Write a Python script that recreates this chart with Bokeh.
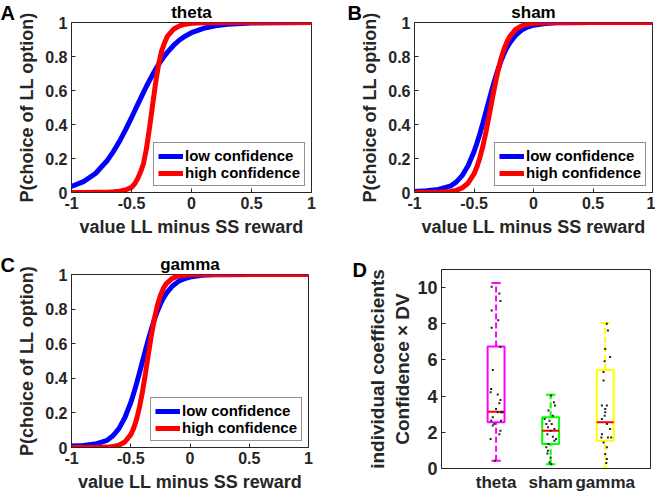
from bokeh.plotting import figure
from bokeh.models import (Legend, LegendItem, Label, FixedTicker, Range1d, ColumnDataSource)
from bokeh.layouts import column, row
from bokeh.embed import file_html
from bokeh.resources import INLINE

FONT = "Liberation Sans"
AXC = "#262626"

# ---------------- data ----------------
x_vals = [-1, -0.9, -0.8, -0.7, -0.65, -0.6, -0.55, -0.5, -0.475, -0.45, -0.425,
          -0.4, -0.375, -0.35, -0.325, -0.3, -0.275, -0.25, -0.225, -0.2, -0.15,
          -0.1, -0.05, 0, 0.1, 0.2, 0.3, 0.5, 1]

theta_low = [0.035, 0.064, 0.112, 0.19, 0.242, 0.301, 0.368, 0.440, 0.478, 0.515,
             0.552, 0.589, 0.625, 0.659, 0.692, 0.723, 0.752, 0.779, 0.804, 0.826,
             0.865, 0.897, 0.921, 0.940, 0.966, 0.981, 0.990, 0.997, 1.0]
theta_high = [0.0, 0.0, 0.001, 0.002, 0.004, 0.007, 0.015, 0.03, 0.05, 0.08,
              0.12, 0.17, 0.26, 0.38, 0.51, 0.64, 0.75, 0.83, 0.88, 0.92,
              0.96, 0.98, 0.99, 0.996, 0.999, 1.0, 1.0, 1.0, 1.0]
sham_low = [0.006, 0.01, 0.018, 0.037, 0.061, 0.099, 0.157, 0.240, 0.291, 0.347,
            0.409, 0.474, 0.539, 0.603, 0.664, 0.720, 0.770, 0.813, 0.850, 0.880,
            0.925, 0.955, 0.973, 0.984, 0.994, 0.998, 0.999, 1.0, 1.0]
sham_high = [0.0001, 0.0003, 0.0014, 0.006, 0.0127, 0.0266, 0.0547, 0.109, 0.151, 0.206,
             0.274, 0.354, 0.444, 0.537, 0.628, 0.711, 0.782, 0.839, 0.883, 0.917,
             0.959, 0.980, 0.9905, 0.9955, 0.999, 1.0, 1.0, 1.0, 1.0]
gamma_low = [0.008, 0.012, 0.02, 0.041, 0.068, 0.109, 0.172, 0.259, 0.313, 0.372,
             0.435, 0.5, 0.565, 0.628, 0.687, 0.741, 0.788, 0.828, 0.863, 0.891,
             0.932, 0.959, 0.975, 0.985, 0.995, 0.998, 0.999, 1.0, 1.0]
gamma_high = [0.0, 0.0001, 0.0004, 0.0022, 0.0054, 0.0131, 0.0317, 0.0745, 0.112, 0.165,
              0.237, 0.327, 0.433, 0.545, 0.652, 0.746, 0.822, 0.879, 0.919, 0.947,
              0.978, 0.991, 0.996, 0.998, 1.0, 1.0, 1.0, 1.0, 1.0]

x_ticks = [-1, -0.5, 0, 0.5, 1]
x_tick_labels = ["-1", "-0.5", "0", "0.5", "1"]
y_ticks = [0, 0.2, 0.4, 0.6, 0.8, 1]
y_tick_labels = ["0", "0.2", "0.4", "0.6", "0.8", "1"]

categories = ["theta", "sham", "gamma"]
cat_pos = [1, 2, 3]
box_colors = ["#FF00FF", "#00FF00", "#FFFF00"]
q1 = [2.55, 1.35, 1.54]
median = [3.14, 2.09, 2.55]
q3 = [6.75, 2.83, 5.45]
whisk_lo = [0.43, 0.24, 0.0]
whisk_hi = [10.26, 4.07, 8.04]

theta_pts = [10.04, 9.67, 9.26, 8.74, 8.19, 7.78, 6.71, 5.45, 4.40, 4.21, 4.09, 3.79, 3.60,
             3.29, 3.11, 3.11, 3.11, 2.83, 2.64, 2.64, 2.46, 2.37, 2.09, 1.90, 1.63, 0.43]
theta_jit = [-0.08, 0.06, 0.08, -0.08, 0.04, -0.08, 0.08, -0.06, -0.09, -0.10, 0.03, 0.08, 0.06,
             0.0, 0.03, 0.09, 0.12, -0.06, -0.09, 0.09, -0.03, -0.06, 0.08, 0.06, -0.10, -0.02]
sham_pts = [4.03, 3.66, 3.48, 3.20, 2.92, 2.74, 2.64, 2.46, 2.46, 2.28, 2.18, 2.09, 1.90,
            1.75, 1.63, 1.54, 1.35, 1.17, 0.98, 0.83, 0.61, 0.33, 0.24]
sham_jit = [0.01, 0.06, 0.08, -0.04, 0.04, -0.11, -0.02, -0.08, 0.02, -0.05, 0.07, 0.0, -0.06,
            0.04, 0.10, 0.07, -0.04, -0.08, -0.05, -0.06, 0.0, -0.02, 0.01]
gamma_pts = [8.0, 7.63, 6.6, 6.16, 5.93, 5.33, 4.86, 3.48, 3.48, 3.29, 3.11, 2.92, 2.74,
             2.46, 2.18, 1.90, 1.72, 1.72, 1.72, 1.44, 1.17, 0.80, 0.52, 0.3]
gamma_jit = [0.03, 0.05, 0.0, 0.09, -0.01, -0.03, -0.03, -0.06, 0.03, 0.0, 0.0, -0.01, -0.06,
             0.03, 0.09, -0.06, -0.07, 0.05, 0.11, -0.03, 0.03, 0.0, 0.03, 0.02]
d_y_ticks = [0, 2, 4, 6, 8, 10]
d_y_tick_labels = ["0", "2", "4", "6", "8", "10"]


# ---------------- helpers ----------------
def style_axis(ax, ticks, labels, size, label_size="18px", tick_in=4):
    ax.ticker = FixedTicker(ticks=ticks)
    ax.major_label_overrides = dict(zip(ticks, labels))
    ax.major_tick_in = tick_in
    ax.major_tick_out = 0
    ax.minor_tick_in = 0
    ax.minor_tick_out = 0
    ax.axis_line_color = AXC
    ax.major_tick_line_color = AXC
    ax.major_label_text_font = FONT
    ax.major_label_text_font_style = "bold"
    ax.major_label_text_font_size = size
    ax.major_label_text_color = AXC
    ax.major_label_standoff = 4
    ax.axis_label_text_font = FONT
    ax.axis_label_text_font_style = "bold"
    ax.axis_label_text_font_size = label_size
    ax.axis_label_text_color = AXC
    ax.axis_label_standoff = 5


def set_title(p, text):
    p.title.text = text
    p.title.align = "center"
    p.title.text_font = FONT
    p.title.text_font_style = "bold"
    p.title.text_font_size = "17px"
    p.title.text_color = "black"
    p.title.standoff = 1


def add_letter(p, text, x, y):
    p.add_layout(Label(x=x, y=y, x_units="screen", y_units="screen", text=text,
                       text_font=FONT, text_font_style="bold", text_font_size="20px",
                       text_color="black", text_align="left", text_baseline="top"),
                 "left")


def curve_panel(width, height, mbl, mbr, mbt, mbb, title, letter, lx, ltop, low, high):
    p = figure(width=width, height=height, x_range=Range1d(-1, 1), y_range=Range1d(0, 1),
               output_backend="svg", toolbar_location=None,
               min_border_left=mbl, min_border_right=mbr, min_border_top=mbt,
               min_border_bottom=mbb)
    p.outline_line_color = AXC
    p.grid.visible = False
    set_title(p, title)
    p.xaxis.axis_label = "value LL minus SS reward"
    p.yaxis.axis_label = "P(choice of LL option)"
    style_axis(p.xaxis[0], x_ticks, x_tick_labels, "16px")
    style_axis(p.yaxis[0], y_ticks, y_tick_labels, "16px")
    r1 = p.line(x_vals, low, color="#0000FF", line_width=5)
    r2 = p.line(x_vals, high, color="#FF0000", line_width=5)
    leg = Legend(items=[LegendItem(label="low confidence", renderers=[r1]),
                        LegendItem(label="high confidence", renderers=[r2])],
                 location="bottom_right", margin=6, padding=4, spacing=0,
                 label_height=16, glyph_height=16, glyph_width=25, label_standoff=2,
                 label_text_font=FONT, label_text_font_style="bold",
                 label_text_font_size="15px", label_text_color="black",
                 border_line_color=AXC, border_line_width=1)
    p.add_layout(leg)
    fh = height - mbt - mbb
    add_letter(p, letter, lx, fh + ltop)
    return p


pA = curve_panel(338, 248, 64, 27, 20, 56, "theta", "A", 0, 19, theta_low, theta_high)
pB = curve_panel(317, 248, 76, 3, 20, 56, "sham", "B", 4, 19, sham_low, sham_high)
pC = curve_panel(338, 246, 64, 30, 26, 47, "gamma", "C", 0, 21, gamma_low, gamma_high)

# ---------------- panel D ----------------
D_H, D_TOP, D_BOT = 246, 21, 25
pD = figure(width=317, height=D_H, x_range=Range1d(0, 3.83), y_range=Range1d(0, 11),
            output_backend="svg", toolbar_location=None,
            min_border_left=103, min_border_right=5, min_border_top=D_TOP,
            min_border_bottom=D_BOT)
pD.outline_line_color = AXC
pD.grid.visible = False
pD.yaxis.axis_label = "individual coefficients\nConfidence \u00d7 DV"
style_axis(pD.xaxis[0], cat_pos, categories, "17px", tick_in=0)
style_axis(pD.yaxis[0], d_y_ticks, d_y_tick_labels, "18px", label_size="19px")
pD.yaxis[0].axis_label_standoff = 1

bw = 0.155
cw = 0.085
box_src = ColumnDataSource(dict(
    left=[c - bw for c in cat_pos], right=[c + bw for c in cat_pos],
    cl=[c - cw for c in cat_pos], cr=[c + cw for c in cat_pos], x=cat_pos,
    q1=q1, med=median, q3=q3, lo=whisk_lo, hi=whisk_hi, color=box_colors))
pD.segment(x0="x", y0="q3", x1="x", y1="hi", source=box_src, line_color="color",
           line_width=2, line_dash="6 3")
pD.segment(x0="x", y0="lo", x1="x", y1="q1", source=box_src, line_color="color",
           line_width=2, line_dash="6 3")
pD.segment(x0="cl", y0="hi", x1="cr", y1="hi", source=box_src, line_color="color", line_width=2)
pD.segment(x0="cl", y0="lo", x1="cr", y1="lo", source=box_src, line_color="color", line_width=2)
pD.quad(left="left", right="right", bottom="q1", top="q3", source=box_src,
        fill_color=None, line_color="color", line_width=2)
pD.segment(x0="left", y0="med", x1="right", y1="med", source=box_src,
           line_color="#FF0000", line_width=2)

dot_x, dot_y = [], []
for pos, pts, jit in zip(cat_pos, [theta_pts, sham_pts, gamma_pts], [theta_jit, sham_jit, gamma_jit]):
    dot_x += [pos + j for j in jit]
    dot_y += pts
pD.scatter(dot_x, dot_y, marker="square", size=2, fill_color="#222222", line_color=None)
add_letter(pD, "D", 2, D_H - D_TOP - D_BOT + 10)

layout = column(row(column(pA), column(pB)), row(column(pC), column(pD)))
open("out.html", "w").write(file_html(layout, INLINE))
